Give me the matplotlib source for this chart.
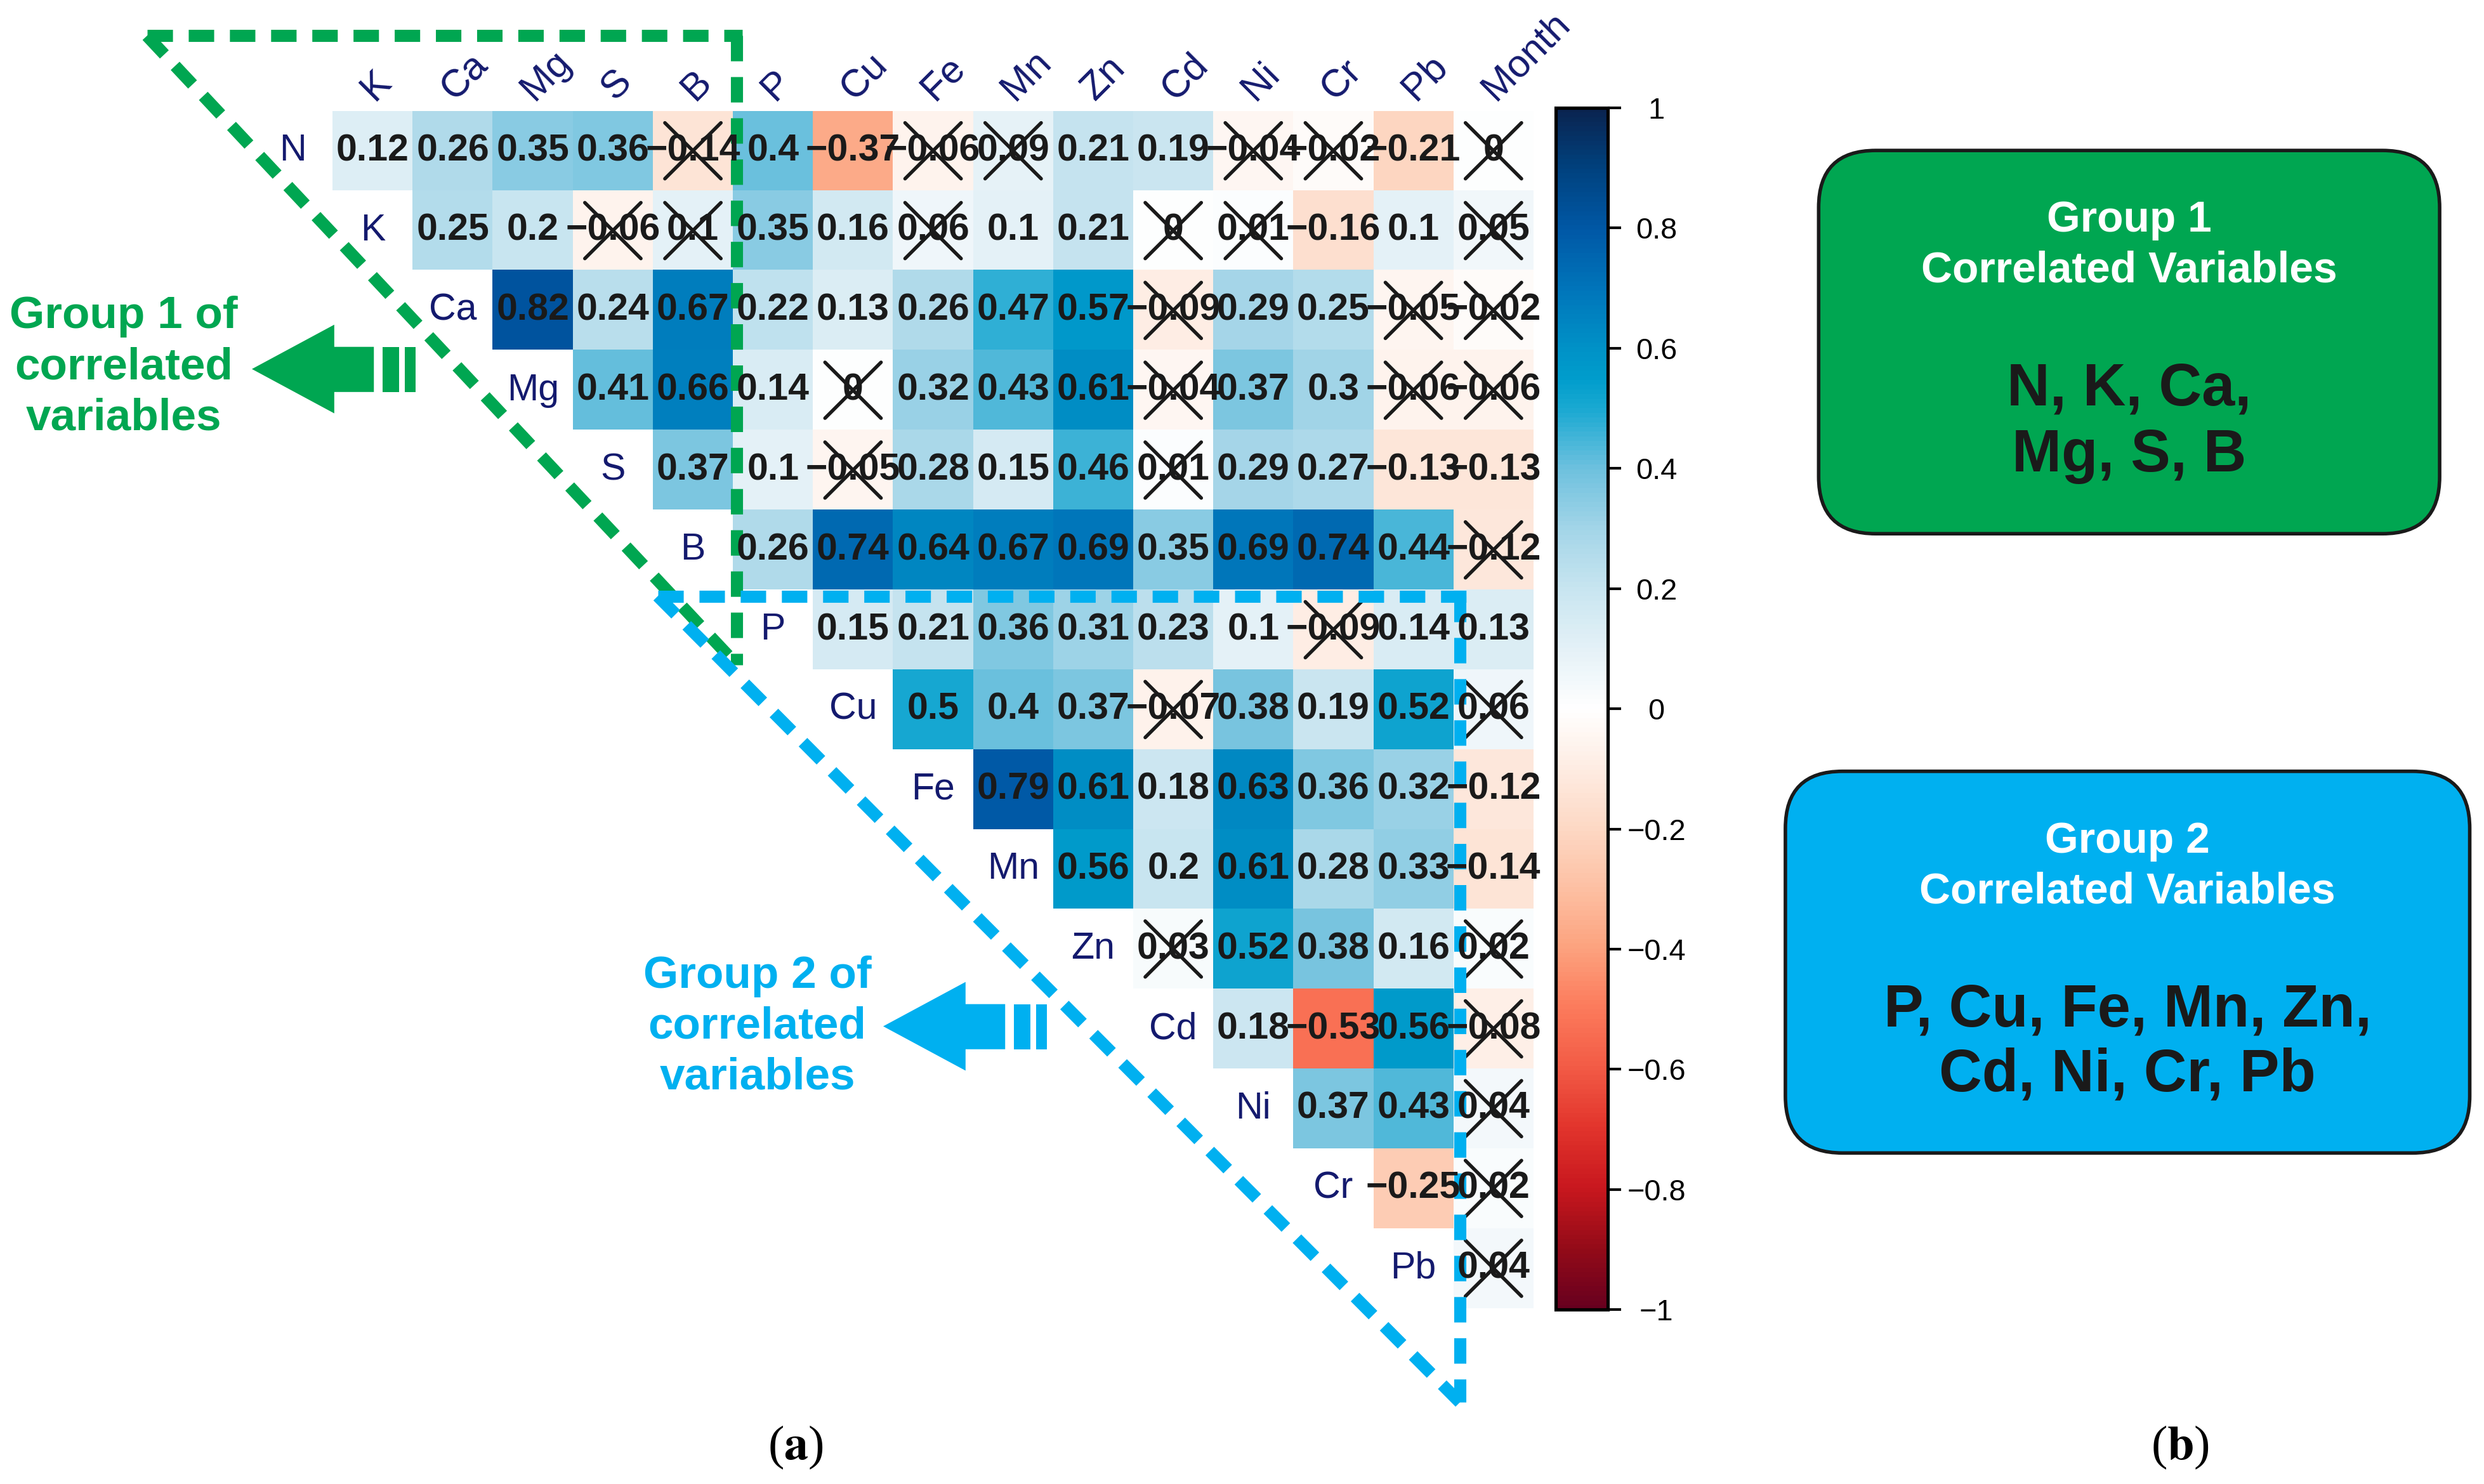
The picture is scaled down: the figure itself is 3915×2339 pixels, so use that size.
import numpy as np
import matplotlib.pyplot as plt
from matplotlib.colors import LinearSegmentedColormap
from matplotlib.patches import FancyBboxPatch, Polygon

plt.rcParams['font.family'] = ['Liberation Sans', 'DejaVu Sans']
plt.rcParams['mathtext.fontset'] = 'stix'

variables = ['N', 'K', 'Ca', 'Mg', 'S', 'B', 'P', 'Cu', 'Fe', 'Mn', 'Zn',
             'Cd', 'Ni', 'Cr', 'Pb', 'Month']

# upper triangle, one row per variable (values right of the diagonal)
corr_rows = [
    [0.12, 0.26, 0.35, 0.36, -0.14, 0.4, -0.37, -0.06, 0.09, 0.21, 0.19, -0.04, -0.02, -0.21, 0],
    [0.25, 0.2, -0.06, 0.1, 0.35, 0.16, 0.06, 0.1, 0.21, 0, 0.01, -0.16, 0.1, 0.05],
    [0.82, 0.24, 0.67, 0.22, 0.13, 0.26, 0.47, 0.57, -0.09, 0.29, 0.25, -0.05, -0.02],
    [0.41, 0.66, 0.14, 0, 0.32, 0.43, 0.61, -0.04, 0.37, 0.3, -0.06, -0.06],
    [0.37, 0.1, -0.05, 0.28, 0.15, 0.46, 0.01, 0.29, 0.27, -0.13, -0.13],
    [0.26, 0.74, 0.64, 0.67, 0.69, 0.35, 0.69, 0.74, 0.44, -0.12],
    [0.15, 0.21, 0.36, 0.31, 0.23, 0.1, -0.09, 0.14, 0.13],
    [0.5, 0.4, 0.37, -0.07, 0.38, 0.19, 0.52, 0.06],
    [0.79, 0.61, 0.18, 0.63, 0.36, 0.32, -0.12],
    [0.56, 0.2, 0.61, 0.28, 0.33, -0.14],
    [0.03, 0.52, 0.38, 0.16, 0.02],
    [0.18, -0.53, 0.56, -0.08],
    [0.37, 0.43, 0.04],
    [-0.25, 0.02],
    [0.04],
]

# non significant pairs (crossed out)
crossed = {
    'N': ['B', 'Fe', 'Mn', 'Ni', 'Cr', 'Month'],
    'K': ['S', 'B', 'Fe', 'Cd', 'Ni', 'Month'],
    'Ca': ['Cd', 'Pb', 'Month'],
    'Mg': ['Cu', 'Cd', 'Pb', 'Month'],
    'S': ['Cu', 'Cd'],
    'B': ['Month'],
    'P': ['Cr'],
    'Cu': ['Cd', 'Month'],
    'Zn': ['Cd', 'Month'],
    'Cd': ['Month'],
    'Ni': ['Month'],
    'Cr': ['Month'],
    'Pb': ['Month'],
}

group1 = ['N', 'K', 'Ca', 'Mg', 'S', 'B']
group2 = ['P', 'Cu', 'Fe', 'Mn', 'Zn', 'Cd', 'Ni', 'Cr', 'Pb']

cbar_ticks = [1, 0.8, 0.6, 0.4, 0.2, 0, -0.2, -0.4, -0.6, -0.8, -1]

cmap_nodes = [
    (-1.0, '#67001f'), (-0.9, '#940b18'), (-0.8, '#c8171e'), (-0.7, '#e2342c'),
    (-0.6, '#f25a45'), (-0.5, '#fc7a5b'), (-0.4, '#fca27e'), (-0.3, '#fdc0a3'),
    (-0.2, '#fdd8c4'), (-0.1, '#feece2'), (0.0, '#ffffff'), (0.1, '#e4f1f7'),
    (0.2, '#c8e5f0'), (0.3, '#a3d5e8'), (0.4, '#6ec1de'), (0.5, '#1aa9d2'),
    (0.55, '#009dcc'), (0.6, '#0092c7'), (0.7, '#0075ba'), (0.8, '#0058a6'),
    (0.9, '#00427f'), (1.0, '#0a2450'),
]
cmap = LinearSegmentedColormap.from_list(
    'corr', [((v + 1) / 2, c) for v, c in cmap_nodes])

GREEN = '#00a651'
BLUE = '#00b0f0'
NAVY = '#141a6e'
INK = '#1a1a1a'


def fmt(v):
    s = f'{v:.2f}'.rstrip('0').rstrip('.')
    if s in ('-0', ''):
        s = '0'
    return s.replace('-', '\u2212')


n = len(variables) - 1
heat = np.full((n, n), np.nan)
for i, row in enumerate(corr_rows):
    for k, v in enumerate(row):
        heat[i, i + k] = v

W, H = 1568, 937
fig = plt.figure(figsize=(15.66, 9.356), dpi=250)

# overlay in "display pixel" units for the annotations
ov = fig.add_axes([0, 0, 1, 1])
ov.set_xlim(0, W)
ov.set_ylim(H, 0)
ov.axis('off')

ax = fig.add_axes([210 / W, 1 - 826 / H, 758 / W, 756 / H])
im = ax.imshow(np.ma.masked_invalid(heat), cmap=cmap, vmin=-1, vmax=1,
               aspect='auto', interpolation='nearest')
ax.set_xlim(-0.5, n - 0.5)
ax.set_ylim(n - 0.5, -0.5)
ax.axis('off')

for i, row in enumerate(corr_rows):
    rname = variables[i]
    for k, v in enumerate(row):
        c = i + k
        ax.text(c, i, fmt(v), ha='center', va='center', fontsize=17,
                fontweight='bold', color=INK)
        if variables[c + 1] in crossed.get(rname, []):
            d = 0.35
            ax.plot([c - d, c + d], [i - d, i + d], color=INK, lw=1.6,
                    solid_capstyle='round', clip_on=False)
            ax.plot([c - d, c + d], [i + d, i - d], color=INK, lw=1.6,
                    solid_capstyle='round', clip_on=False)
    # row label on the diagonal
    ax.text(i - 1, i, rname, ha='center', va='center', fontsize=17,
            color=NAVY, clip_on=False)

for c in range(n):
    ax.text(c + 0.02, -0.62, variables[c + 1], rotation=45, ha='left',
            va='baseline', rotation_mode='anchor', fontsize=17.5,
            color=NAVY, clip_on=False)

# dashed group outlines (heatmap cell units)
dash = (0, (2.1, 1.3))
lw = 5.5
ax.plot([-2.82, 4.62], [-1.44, -1.44], color=GREEN, lw=lw, ls=dash, clip_on=False)
ax.plot([4.55, 4.55], [-1.44, 6.44], color=GREEN, lw=lw, ls=dash, clip_on=False)
ax.plot([-2.82, 4.55], [-1.44, 6.44], color=GREEN, lw=lw, ls=dash, clip_on=False)
ax.plot([3.56, 13.66], [5.58, 5.58], color=BLUE, lw=lw, ls=dash, clip_on=False)
ax.plot([13.58, 13.58], [5.58, 15.68], color=BLUE, lw=lw, ls=dash, clip_on=False)
ax.plot([3.56, 13.58], [5.58, 15.68], color=BLUE, lw=lw, ls=dash, clip_on=False)

# colorbar
cax = fig.add_axes([982 / W, 1 - 827 / H, 33 / W, 759 / H])
cb = fig.colorbar(im, cax=cax, ticks=cbar_ticks)
cb.set_ticklabels([fmt(t) for t in cbar_ticks])
cb.outline.set_linewidth(1.5)
cax.tick_params(length=6, width=1.2, pad=16, labelsize=13.5, colors='black')
for t in cax.get_yticklabels():
    t.set_ha('center')


def arrow(x0, y0, color):
    # x0, y0: arrow tip
    head = [(x0, y0), (x0 + 52, y0 - 28), (x0 + 52, y0 - 14), (x0 + 77, y0 - 14),
            (x0 + 77, y0 + 14.5), (x0 + 52, y0 + 14.5), (x0 + 52, y0 + 28)]
    ov.add_patch(Polygon(head, closed=True, color=color, lw=0))
    for a, b in [(82.5, 93), (96.5, 103.5)]:
        ov.add_patch(Polygon([(x0 + a, y0 - 14), (x0 + b, y0 - 14),
                              (x0 + b, y0 + 14.5), (x0 + a, y0 + 14.5)],
                             closed=True, color=color, lw=0))


arrow(159, 233, GREEN)
arrow(557.5, 648, BLUE)

for k, line in enumerate(['Group 1 of', 'correlated', 'variables']):
    ov.text(78, 200 + 32 * k, line, ha='center', va='center', fontsize=20.5,
            fontweight='bold', color=GREEN)
for k, line in enumerate(['Group 2 of', 'correlated', 'variables']):
    ov.text(478, 616.5 + 32 * k, line, ha='center', va='center', fontsize=20.5,
            fontweight='bold', color=BLUE)

# right panel boxes
boxes = [
    (1148, 95, 392, 242, GREEN, 'Group 1', 139, 171,
     ['N, K, Ca,', 'Mg, S, B'], [246, 288]),
    (1127, 487, 432, 241, BLUE, 'Group 2', 531, 563,
     ['P, Cu, Fe, Mn, Zn,', 'Cd, Ni, Cr, Pb'], [638, 679]),
]
for x, y, w, h, col, title, ty1, ty2, lines, ly in boxes:
    ov.add_patch(FancyBboxPatch((x, y), w, h,
                                boxstyle='round,pad=0,rounding_size=36',
                                facecolor=col, edgecolor=INK, lw=1.6))
    cx = x + w / 2
    ov.text(cx, ty1, title, ha='center', va='center', fontsize=19.5,
            fontweight='bold', color='white')
    ov.text(cx, ty2, 'Correlated Variables', ha='center', va='center',
            fontsize=19.5, fontweight='bold', color='white')
    for txt, yy in zip(lines, ly):
        ov.text(cx, yy, txt, ha='center', va='center', fontsize=27,
                fontweight='bold', color=INK)

ov.text(502, 914, r'($\mathbf{a}$)', ha='center', va='center', fontsize=22,
        family='Liberation Serif', color='black')
ov.text(1376, 914, r'($\mathbf{b}$)', ha='center', va='center', fontsize=22,
        family='Liberation Serif', color='black')

fig.savefig('out.png', dpi=250)
